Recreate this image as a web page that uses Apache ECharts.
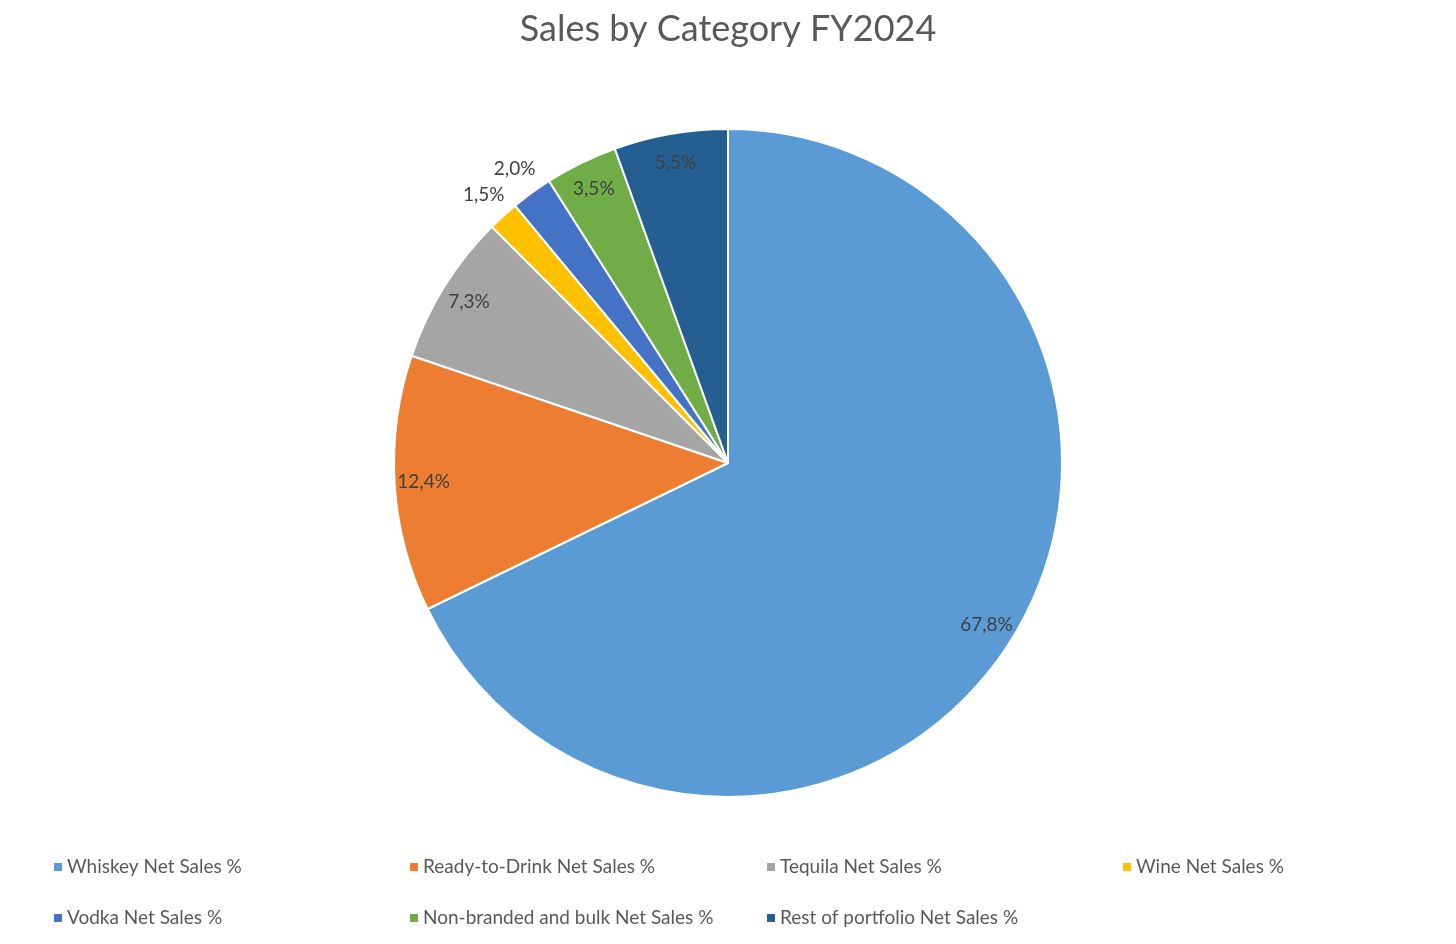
<!DOCTYPE html>
<html><head><meta charset="utf-8">
<script src="https://cdn.jsdelivr.net/npm/echarts@6/dist/echarts.min.js"></script>
<style>html,body{margin:0;padding:0;background:#fff}#c{width:1456px;height:944px}</style>
</head><body><div id="c"></div>
<script>
const categories = ['Whiskey Net Sales %','Ready-to-Drink Net Sales %','Tequila Net Sales %','Wine Net Sales %','Vodka Net Sales %','Non-branded and bulk Net Sales %','Rest of portfolio Net Sales %'];
const values = [67.8, 12.4, 7.3, 1.5, 2.0, 3.5, 5.5];
const colors = ['#5B9BD5','#ED7D31','#A5A5A5','#FFC000','#4472C4','#70AD47','#255E91'];
const outsideLabelIdx = [3, 4];

const FONT = 'Lato';
const fmt = v => v.toFixed(1).replace('.', ',') + '%';
const center = [728, 463];
const R = 334;

const mainData = categories.map((n, i) => ({ name: n, value: values[i], itemStyle: { color: colors[i] } }));
const insideData = values.map((v, i) => ({ name: 'in' + i, value: v, label: { show: !outsideLabelIdx.includes(i) } }));
const outsideData = values.map((v, i) => ({ name: 'out' + i, value: v, label: { show: outsideLabelIdx.includes(i) } }));

const overlayBase = {
  type: 'pie', center: center, silent: true, animation: false,
  itemStyle: { color: 'rgba(0,0,0,0)', borderWidth: 0 },
  emphasis: { disabled: true },
  labelLine: { show: false },
  label: { position: 'inside', color: '#404040', fontFamily: FONT, fontSize: 19, formatter: p => fmt(p.value) }
};

const legendCols = [[0, 4], [1, 5], [2, 6], [3]];
const legendLeft = [49, 405, 762, 1118];

const option = {
  backgroundColor: '#fff',
  title: { text: 'Sales by Category FY2024', left: 'center', top: 6,
    textStyle: { fontFamily: FONT, fontSize: 36, fontWeight: 'normal', color: '#595959' } },
  legend: legendCols.map((col, k) => ({
    orient: 'vertical', left: legendLeft[k], top: 851, itemGap: 29, itemTextGap: 8,
    icon: 'rect', itemWidth: 8, itemHeight: 8, itemStyle: { borderWidth: 0 },
    data: col.map(i => categories[i]),
    textStyle: { fontFamily: FONT, fontSize: 19, color: '#595959', lineHeight: 22 }
  })),
  series: [
    { type: 'pie', center: center, radius: [0, R], startAngle: 90, clockwise: true, animation: false,
      data: mainData, label: { show: false }, labelLine: { show: false },
      itemStyle: { borderColor: '#fff', borderWidth: 2 }, emphasis: { scale: false } },
    Object.assign({}, overlayBase, { radius: [270, R], data: insideData }),
    Object.assign({}, overlayBase, { radius: [336, 384], data: outsideData })
  ]
};
echarts.init(document.getElementById('c')).setOption(option);
</script></body></html>
